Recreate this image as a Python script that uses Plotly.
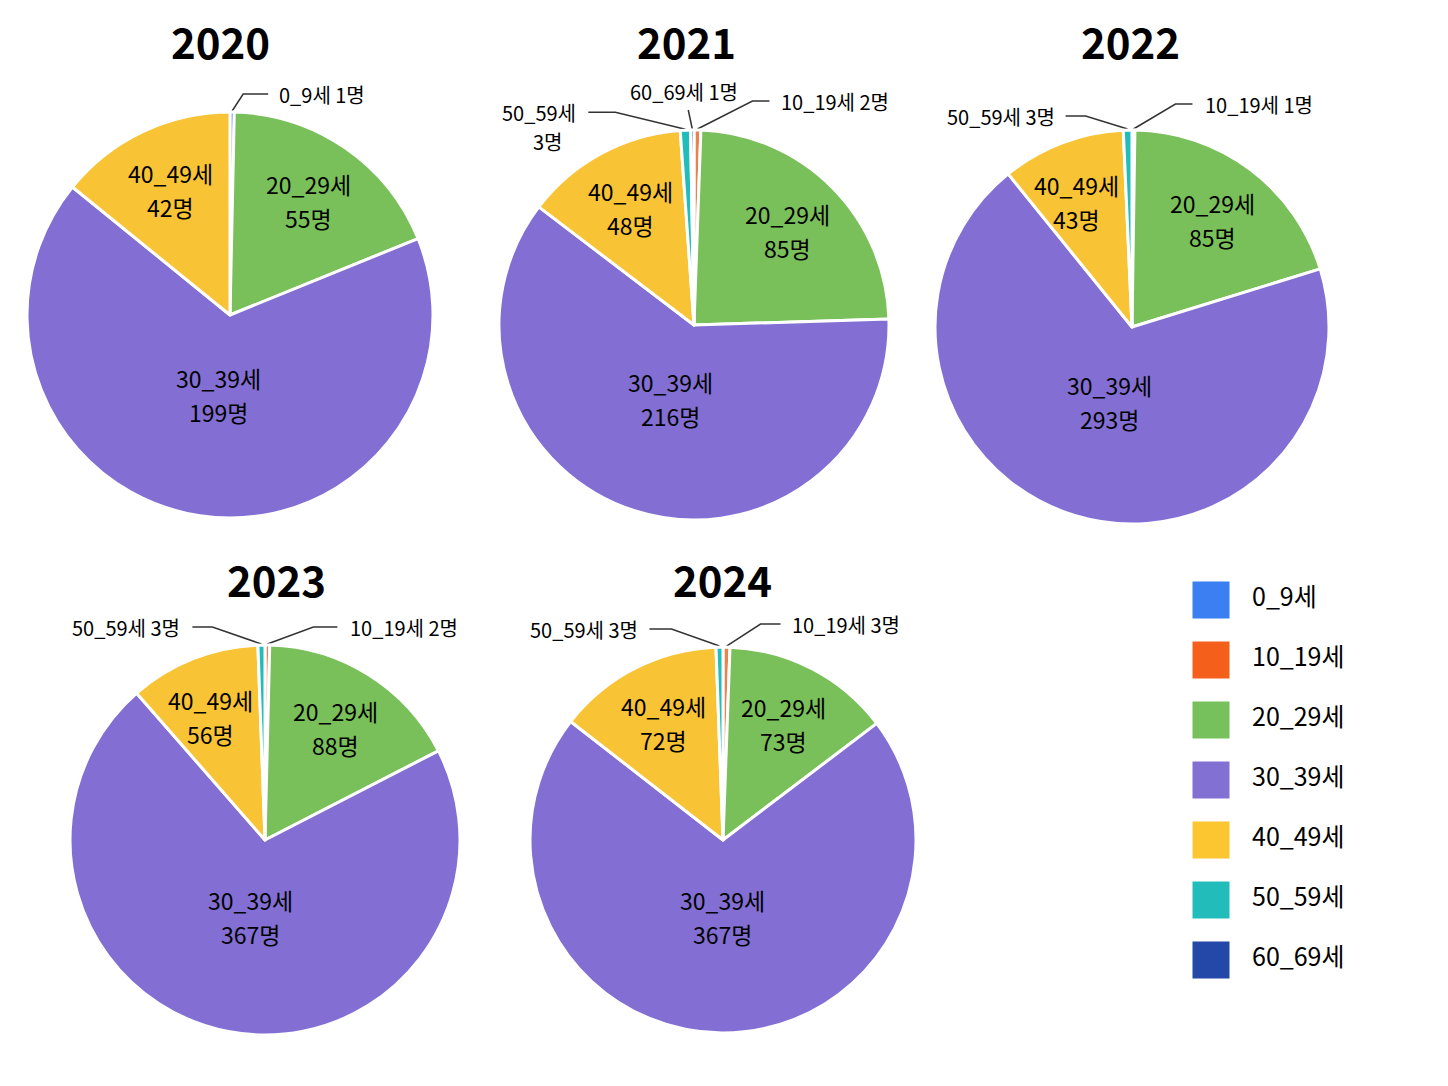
"""
연령대별 인원 분포 (2020~2024) - 연도별 파이 차트 5개 + 공통 범례
"""

import math
import plotly.graph_objects as go

# ---- 데이터 ----
YEARS = ["2020", "2021", "2022", "2023", "2024"]
AGE_GROUPS = ["0_9세", "10_19세", "20_29세", "30_39세", "40_49세", "50_59세", "60_69세"]

COUNTS_2020 = [1, 0, 55, 199, 42, 0, 0]
COUNTS_2021 = [0, 2, 85, 216, 48, 3, 1]
COUNTS_2022 = [0, 1, 85, 293, 43, 3, 0]
COUNTS_2023 = [0, 2, 88, 367, 56, 3, 0]
COUNTS_2024 = [0, 3, 73, 367, 72, 3, 0]

COUNTS = [COUNTS_2020, COUNTS_2021, COUNTS_2022, COUNTS_2023, COUNTS_2024]

# ---- 스타일 ----
OFF = 8                       # 페이지 body 여백
W, H = 1448 - 2 * OFF, 1086 - 2 * OFF
FONT = "Noto Sans CJK KR"

SLICE_COLORS = ["#3b7ff2", "#e9834e", "#79c05a", "#836fd3", "#f8c334", "#22bdbb", "#2448a8"]
LEGEND_COLORS = ["#3b7ff2", "#f55f1c", "#76c15b", "#8370d3", "#fbc630", "#22bdbb", "#2448a8"]

# 파이 중심과 반지름 (페이지 px)
PIE_GEOMETRY = [(230, 315, 203), (694, 325, 195), (1132, 327, 197),
                (265, 840, 195), (723, 840, 193)]
# 제목 위치 (페이지 px)
TITLE_POS = [(220, 40), (686, 40), (1130, 40), (276, 578), (722, 578)]

SMALL = 10  # 이보다 작은 조각은 바깥 라벨
HALF_W = 44  # 안쪽 라벨 대략 반폭(px)

# 바깥 라벨 지시선: (연도, 연령대) -> (꺾임 dx, 꺾임 dy, 수평 길이, 간격, 방향, 줄바꿈)
CALLOUTS = {
    ("2020", "0_9세"): (11, -17, 25, 9, "right", False),
    ("2021", "10_19세"): (55, -28, 17, 10, "right", False),
    ("2021", "60_69세"): (-4, -19, 0, 2, "up", False),
    ("2021", "50_59세"): (-70, -17, 27, 10, "left", True),
    ("2022", "10_19세"): (42, -25, 17, 11, "right", False),
    ("2022", "50_59세"): (-42, -13, 20, 9, "left", False),
    ("2023", "10_19세"): (46, -17, 24, 11, "right", False),
    ("2023", "50_59세"): (-49, -17, 20, 10, "left", False),
    ("2024", "10_19세"): (34, -22, 20, 9, "right", False),
    ("2024", "50_59세"): (-48, -17, 22, 9, "left", False),
}

fig = go.Figure()
annotations = []
lead_x, lead_y = [], []


def txt(x, y, text, size, **kw):
    """오버레이 축(페이지 px 좌표)에 텍스트 추가"""
    d = dict(x=x, y=y, xref="x2", yref="y2", text=text, showarrow=False,
             font=dict(family=FONT, size=size, color="black"))
    d.update(kw)
    annotations.append(d)


for i, year in enumerate(YEARS):
    cx, cy, r = PIE_GEOMETRY[i]
    labels, values, colors = [], [], []
    for g, v, c in zip(AGE_GROUPS, COUNTS[i], SLICE_COLORS):
        if v > 0:
            labels.append(g)
            values.append(v)
            colors.append(c)

    fig.add_trace(go.Pie(
        labels=labels, values=values, sort=False, direction="clockwise",
        rotation=0,
        domain=dict(x=[(cx - r - OFF) / W, (cx + r - OFF) / W],
                    y=[1 - (cy + r - OFF) / H, 1 - (cy - r - OFF) / H]),
        marker=dict(colors=colors, line=dict(color="white", width=3)),
        textinfo="none", showlegend=False,
    ))

    tx, ty = TITLE_POS[i]
    txt(tx, ty, f"<b>{year}</b>", 42)

    total = sum(values)
    cum = 0
    for g, v in zip(labels, values):
        mid = (cum + v / 2) / total * 2 * math.pi
        end = (cum + v) / total * 2 * math.pi
        cum += v
        sx, sy = math.sin(mid), -math.cos(mid)
        if v >= SMALL:
            # 조각 안쪽 라벨
            frac = 0.4 if v / total > 0.5 else 0.68
            lx, ly = cx + frac * r * sx, cy + frac * r * sy
            # 왼쪽 위 좁은 조각: 오른쪽 경계선을 넘지 않게
            if 1.5 * math.pi < end < 2 * math.pi:
                ytop = ly - 29
                limit = cx + (cy - ytop) * math.tan(end) - 5
                lx = min(lx, limit - HALF_W)
            txt(lx, ly - 17, g, 23)
            txt(lx, ly + 17, f"{v}명", 23)
            continue

        ex, ey, run, gap, side, wrap = CALLOUTS[(year, g)]
        px, py = cx + (r + 1) * sx, cy + (r + 1) * sy
        kx, ky = px + ex, py + ey
        if side == "right":
            endx = kx + run
            lead_x += [px, kx, endx, None]
            lead_y += [py, ky, ky, None]
            txt(endx + gap, ky, f"{g} {v}명", 20, xanchor="left")
        elif side == "left":
            endx = kx - run
            lead_x += [px, kx, endx, None]
            lead_y += [py, ky, ky, None]
            if wrap:
                txt(endx - gap, ky, g, 20, xanchor="right")
                txt(endx - gap - 13, ky + 29, f"{v}명", 20, xanchor="right")
            else:
                txt(endx - gap, ky, f"{g} {v}명", 20, xanchor="right")
        else:
            lead_x += [px, kx, None]
            lead_y += [py, ky, None]
            txt(kx - 4, ky - gap, f"{g} {v}명", 20, yanchor="bottom")

# 지시선
fig.add_trace(go.Scatter(
    x=lead_x, y=lead_y, mode="lines", line=dict(color="#333333", width=1.5),
    xaxis="x2", yaxis="y2", hoverinfo="skip", showlegend=False,
))

# ---- 범례 ----
fig.add_trace(go.Scatter(
    x=[1211] * len(AGE_GROUPS), y=AGE_GROUPS, mode="markers",
    marker=dict(symbol="square", size=37, color=LEGEND_COLORS, line=dict(width=0)),
    hoverinfo="skip", showlegend=False,
))
fig.add_trace(go.Scatter(
    x=[1252] * len(AGE_GROUPS), y=AGE_GROUPS, mode="text", text=AGE_GROUPS,
    textposition="middle right", textfont=dict(family=FONT, size=25, color="black"),
    hoverinfo="skip", showlegend=False,
))

fig.update_layout(
    width=W, height=H,
    margin=dict(l=0, r=0, t=0, b=0),
    paper_bgcolor="white", plot_bgcolor="rgba(0,0,0,0)",
    font=dict(family=FONT),
    annotations=annotations,
    xaxis=dict(domain=[(1150 - OFF) / W, (1400 - OFF) / W], range=[1150, 1400],
               visible=False, fixedrange=True),
    yaxis=dict(domain=[1 - (990 - OFF) / H, 1 - (570 - OFF) / H], range=[6.5, -0.5],
               type="category", visible=False, fixedrange=True),
    xaxis2=dict(domain=[0, 1], range=[OFF, OFF + W], visible=False, fixedrange=True),
    yaxis2=dict(domain=[0, 1], range=[OFF + H, OFF], visible=False, fixedrange=True),
)

fig.write_html("out.html")
